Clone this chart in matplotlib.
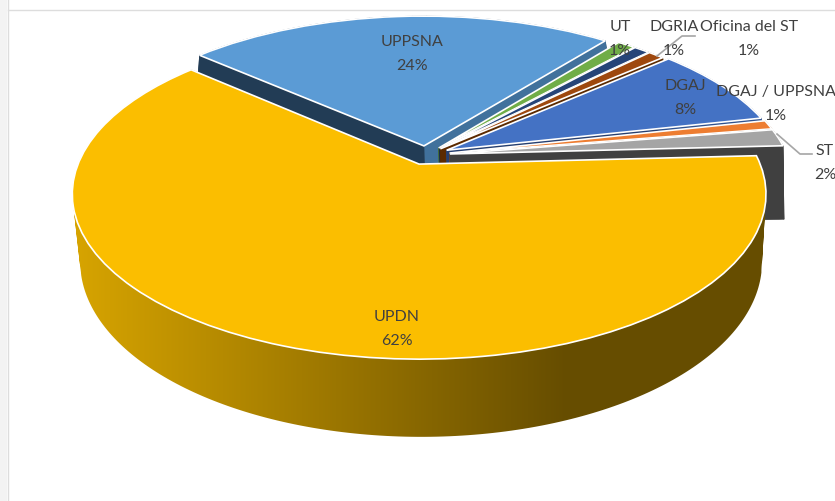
import matplotlib
matplotlib.use("Agg")
import matplotlib.pyplot as plt
from matplotlib.collections import PolyCollection
from matplotlib.patches import Polygon, Rectangle
from matplotlib.path import Path
from matplotlib.transforms import Transform
import numpy as np

categories = ["UPPSNA", "UT", "DGRIA", "Oficina del ST", "DGAJ", "DGAJ / UPPSNA", "ST", "UPDN"]
values = [24.0, 1.0, 0.9, 0.9, 8.0, 0.9, 1.7, 62.0]
percent_labels = ["24%", "1%", "1%", "1%", "8%", "1%", "2%", "62%"]
explode = [0.06, 0.06, 0.06, 0.06, 0.07, 0.072, 0.072, 0.06]
top_colors = ["#5B9BD5", "#70AD47", "#264478", "#9E480E", "#4472C4", "#ED7D31", "#A5A5A5", "#FBBE00"]
side_colors = ["#223C55", "#3F6428", "#16284A", "#5C2A00", "#263F70", "#8A4A1C", "#404040", "#665000"]
inner_colors = ["#41719C", "#507E32", "#1C335A", "#5C2A00", "#2F528F", "#AE5A21", "#404040", "#665000"]
label_pos = [(412, 54), (620, 39), (674, 39), (749, 39), (685, 98), (776, 104), (825, 163), (397, 329)]


class Perspective(Transform):
    input_dims = 2
    output_dims = 2

    def __init__(self, cx, cy, sx, sy, k):
        super().__init__()
        self.cx, self.cy, self.sx, self.sy, self.k = cx, cy, sx, sy, k

    def transform_non_affine(self, xy):
        xy = np.asarray(xy, dtype=float)
        w = 1 + self.k * xy[:, 1]
        return np.column_stack((self.cx + self.sx * xy[:, 0] / w, self.cy - self.sy * xy[:, 1] / w))


top_face = Perspective(418, 165, 341, 159.5, 0.182)
bottom_face = Perspective(420, 240, 338, 172, 0.13)


def arc_edges(wedge, n):
    a = np.radians(np.linspace(wedge.theta1, wedge.theta2, n + 1))
    uv = np.column_stack((wedge.center[0] + wedge.r * np.cos(a), wedge.center[1] + wedge.r * np.sin(a)))
    return top_face.transform_non_affine(uv), bottom_face.transform_non_affine(uv)


def radial_wall(wedge, theta):
    a = np.radians(theta)
    uv = np.array([wedge.center, (wedge.center[0] + np.cos(a), wedge.center[1] + np.sin(a))])
    t = top_face.transform_non_affine(uv)
    b = bottom_face.transform_non_affine(uv)
    return [t[0], t[1], b[1], b[0]]


def same_winding(quad):
    q = np.array(quad)
    area = np.sum(q[:, 0] * np.roll(q[:, 1], -1) - np.roll(q[:, 0], -1) * q[:, 1])
    return q if area > 0 else q[::-1]


fig = plt.figure(figsize=(8.35, 5.02), dpi=100)
ax = fig.add_axes([0, 0, 1, 1])

wedges, _ = ax.pie(
    values,
    startangle=138.5,
    counterclock=False,
    colors=top_colors,
    explode=explode,
    center=(0.023, 0.056),
    radius=1,
    wedgeprops={"edgecolor": "white", "linewidth": 1.2},
)

# painter's order: back slices first, the big yellow one last
for i, wedge in enumerate(wedges):
    z = 2 + i * 2
    if i == len(wedges) - 1:
        # outer wall of the yellow slice: horizontal gradient clipped to the wall
        t, b = arc_edges(wedge, 240)
        quads = [[t[j], t[j + 1], b[j + 1], b[j]] for j in range(240)]
        wall = Path.make_compound_path(*[Path(np.vstack((q, q[:1])), closed=True) for q in map(same_winding, quads)])
        shade = np.zeros((1, 500, 3))
        f = np.clip(np.arange(500) / 497, 0, 1)
        for c in range(3):
            shade[0, :, c] = ([216, 165, 0][c] + ([102, 77, 0][c] - [216, 165, 0][c]) * f) / 255
        im = ax.imshow(shade, extent=(70, 570, 502, 0), aspect="auto", zorder=z)
        im2 = ax.imshow(shade[:, -1:, :], extent=(570, 835, 502, 0), aspect="auto", zorder=z)
        im.set_clip_path(wall, ax.transData)
        im2.set_clip_path(wall, ax.transData)
    else:
        t, b = arc_edges(wedge, 30)
        quads = [[t[j], t[j + 1], b[j + 1], b[j]] for j in range(30)]
        ax.add_collection(PolyCollection(quads, facecolors=side_colors[i], edgecolors=side_colors[i],
                                         linewidths=0.5, zorder=z))
    ax.add_patch(Polygon(radial_wall(wedge, wedge.theta1), closed=True, fc=inner_colors[i], ec=inner_colors[i],
                         lw=0.5, zorder=z))
    ax.add_patch(Polygon(radial_wall(wedge, wedge.theta2), closed=True, fc=side_colors[i], ec=side_colors[i],
                         lw=0.5, zorder=z))
    wedge.set_transform(top_face + ax.transData)
    wedge.set_zorder(z + 1)

ax.set_aspect("auto")
ax.set_xlim(0, 835)
ax.set_ylim(502, 0)
ax.axis("off")

# leader lines
ax.plot([777, 800, 812], [135, 155, 155], color="#A6A6A6", lw=1.2, zorder=30)
ax.plot([657, 682, 695], [57, 37, 37], color="#A6A6A6", lw=1.2, zorder=30)

for name, pct, (x, y) in zip(categories, percent_labels, label_pos):
    ax.text(x, y, name + "\n" + pct, ha="center", va="center", fontsize=11.5, family="Lato",
            color="#404040", linespacing=1.9, zorder=40)

# window frame
fig.add_artist(Rectangle((0, 0), 7 / 835, 1, transform=fig.transFigure, fc="#F3F3F3", ec="none"))
fig.add_artist(plt.Line2D([7.5 / 835, 7.5 / 835], [0, 1], color="#DDDDDD", lw=1))
fig.add_artist(plt.Line2D([7.5 / 835, 1], [491.5 / 502, 491.5 / 502], color="#DDDDDD", lw=1))

fig.savefig("out.png", dpi=100)
